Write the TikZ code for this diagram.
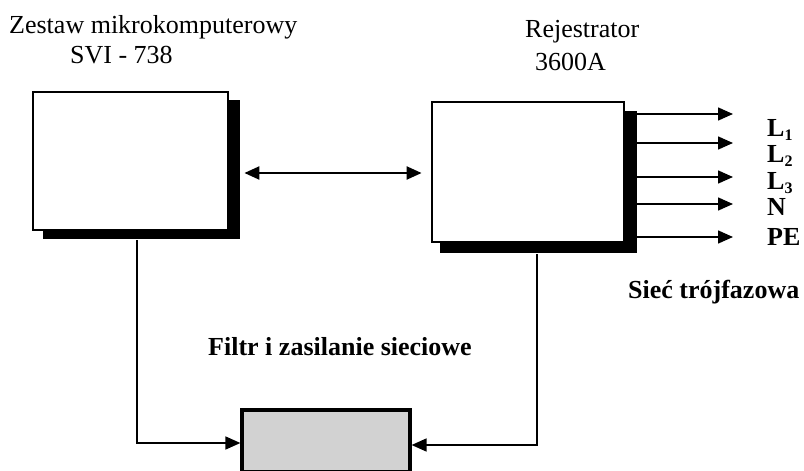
\documentclass[tikz,border=0pt]{standalone}
\usepackage{fontspec}
\setmainfont{Liberation Serif}
\usetikzlibrary{arrows.meta,calc}
\newcommand{\Lsub}[1]{\textbf{L}\raisebox{-0.18em}{\fontsize{16}{16}\selectfont\bfseries #1}}
\begin{document}
\begin{tikzpicture}[x=1pt,y=-1pt,
  lbl/.style={anchor=base west,inner sep=0pt,font=\fontsize{26}{30}\selectfont},
  blbl/.style={lbl,font=\fontsize{26}{30}\selectfont\bfseries},
  boxframe/.style={draw=black,line width=2.8pt,fill=white,inner sep=0pt},
  shade/.style={fill=black,draw=none},
  wire/.style={line width=1.6pt},
  tip/.style={-{Triangle[length=15pt,width=13pt]}},
  dtip/.style={{Triangle[length=15pt,width=13pt]}-{Triangle[length=15pt,width=13pt]}}]
\useasboundingbox (0,0) rectangle (804,471);
% shadows
\fill[shade] (43,100) rectangle (240,239);
\fill[shade] (440,111) rectangle (637,253);
% boxes
\node[boxframe,minimum width=195pt,minimum height=138pt] (box1) at (130.5,161) {};
\node[boxframe,minimum width=192pt,minimum height=140pt] (box2) at (528,172) {};
\node[boxframe,line width=3.2pt,fill=gray!35,minimum width=168pt,minimum height=62pt] (filt) at (326,441) {};
% titles
\node[lbl] (t1) at (9,33) {Zestaw mikrokomputerowy};
\node[lbl] (t2) at (70,63) {SVI - 738};
\node[lbl] (t3) at (525,37) {Rejestrator};
\node[lbl] (t4) at (535,70) {3600A};
\node[blbl] (t5) at (208,355) {Filtr i zasilanie sieciowe};
\node[blbl] (t6) at (628,298) {Sieć trójfazowa};
% line labels
\node[lbl] (l1) at (767,136) {\Lsub{1}};
\node[lbl] (l2) at (767,162) {\Lsub{2}};
\node[lbl] (l3) at (767,189) {\Lsub{3}};
\node[lbl] (ln) at (767,215) {\textbf{N}};
\node[lbl] (lpe) at (767,245) {\textbf{PE}};
% tips of output arrows
\coordinate (e1) at (733,114);
\coordinate (e2) at (733,143);
\coordinate (e3) at (733,177);
\coordinate (e4) at (733,204);
\coordinate (e5) at (733,237);
\foreach \e in {e1,e2,e3,e4,e5}
  \draw[wire,tip] ([xshift=9pt]box2.east |- \e) -- (\e);
% double arrow
\draw[line width=2.2pt,dtip,shorten <=15pt,shorten >=9pt] (box1.east |- 0,173) -- (box2.west |- 0,173);
% power lines
\draw[wire,tip] ($(box1.south)+(6.5,9)$) |- (filt.west |- 0,443);
\draw[wire,tip] ($(box2.south)+(9,11)$) |- (filt.east |- 0,445);
\end{tikzpicture}
\end{document}
